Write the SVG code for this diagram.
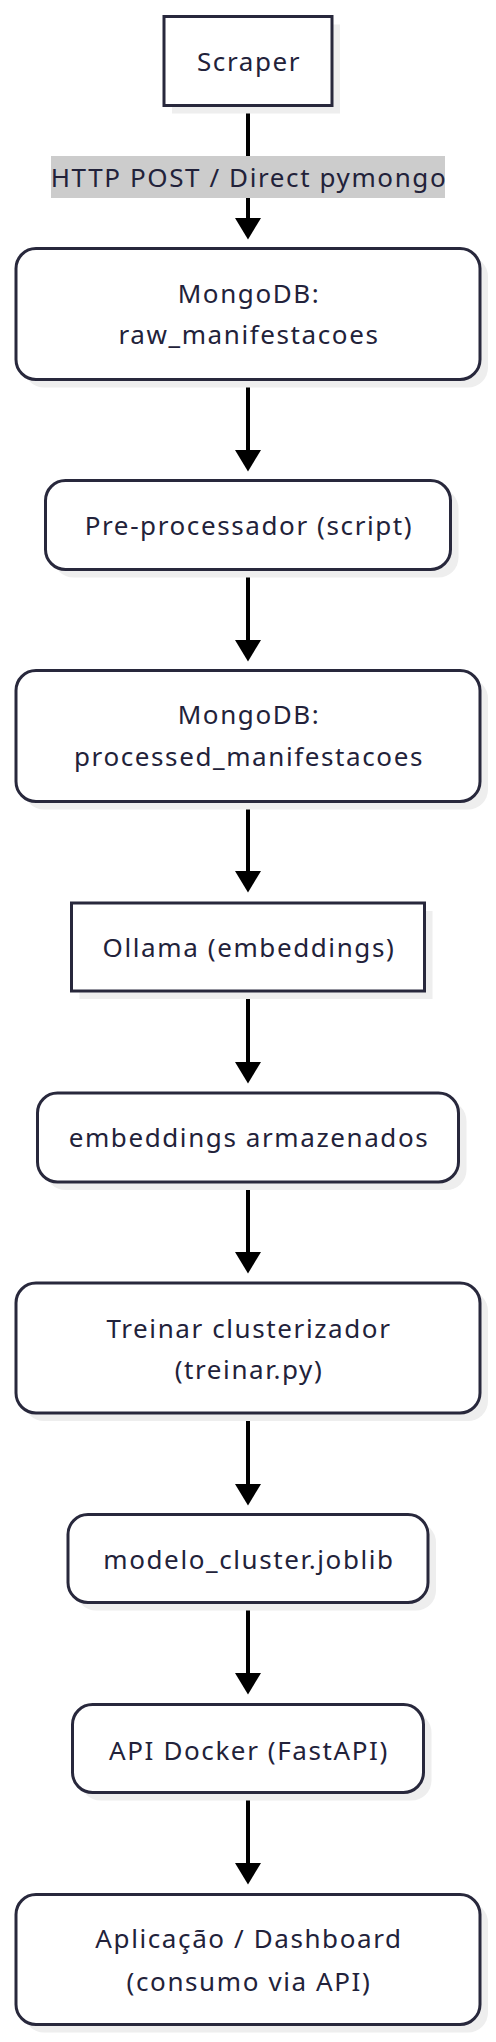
<svg xmlns="http://www.w3.org/2000/svg" width="496" height="2042" viewBox="0 0 496 2042">
<style>
.sh{fill:#eeeeee;stroke:none}
.nd{fill:#ffffff;stroke:#28283c;stroke-width:3}
.t{font-family:"Noto Sans","Open Sans",sans-serif;font-size:26px;letter-spacing:1.6px;fill:#22223a;text-anchor:middle}
.e{stroke:#000000;stroke-width:4;fill:none}
.ah{fill:#000000}
.lb{fill:#cccccc}
</style>
<rect width="496" height="2042" fill="#ffffff"/>
<g id="connectors">
<line class="e" x1="248" y1="107" x2="248" y2="220"/><path class="ah" d="M235,218 L261,218 L248,239.5 Z"/>
<line class="e" x1="248" y1="381" x2="248" y2="452"/><path class="ah" d="M235,450 L261,450 L248,471.5 Z"/>
<line class="e" x1="248" y1="571" x2="248" y2="642"/><path class="ah" d="M235,640 L261,640 L248,661.5 Z"/>
<line class="e" x1="248" y1="803" x2="248" y2="873"/><path class="ah" d="M235,871 L261,871 L248,892.5 Z"/>
<line class="e" x1="248" y1="992" x2="248" y2="1064"/><path class="ah" d="M235,1062 L261,1062 L248,1083.5 Z"/>
<line class="e" x1="248" y1="1183" x2="248" y2="1254"/><path class="ah" d="M235,1252 L261,1252 L248,1273.5 Z"/>
<line class="e" x1="248" y1="1414" x2="248" y2="1486"/><path class="ah" d="M235,1484 L261,1484 L248,1505.5 Z"/>
<line class="e" x1="248" y1="1604" x2="248" y2="1675"/><path class="ah" d="M235,1673 L261,1673 L248,1694.5 Z"/>
<line class="e" x1="248" y1="1794" x2="248" y2="1865"/><path class="ah" d="M235,1863 L261,1863 L248,1884.5 Z"/>
<rect class="lb" x="51" y="156" width="394" height="42"/>
<text class="t" x="249" y="186.5">HTTP POST / Direct pymongo</text>
</g>
<g id="scraper"><rect class="sh" x="172" y="24.5" width="168" height="89"/><rect class="nd" x="164" y="16.5" width="168" height="89"/><text class="t" x="249" y="71">Scraper</text></g>
<g id="raw"><rect class="sh" x="24" y="256.5" width="464" height="131" rx="20"/><rect class="nd" x="16" y="248.5" width="464" height="131" rx="20"/><text class="t" x="249" y="303">MongoDB:</text><text class="t" x="249" y="344">raw_manifestacoes</text></g>
<g id="pre"><rect class="sh" x="53.5" y="488.5" width="405" height="89" rx="20"/><rect class="nd" x="45.5" y="480.5" width="405" height="89" rx="20"/><text class="t" x="249" y="535">Pre-processador (script)</text></g>
<g id="processed"><rect class="sh" x="24" y="678.5" width="464" height="131" rx="20"/><rect class="nd" x="16" y="670.5" width="464" height="131" rx="20"/><text class="t" x="249" y="724">MongoDB:</text><text class="t" x="249" y="765.5">processed_manifestacoes</text></g>
<g id="ollama"><rect class="sh" x="79.5" y="911" width="353" height="88"/><rect class="nd" x="71.5" y="903" width="353" height="88"/><text class="t" x="249" y="956.5">Ollama (embeddings)</text></g>
<g id="embeddings"><rect class="sh" x="45.5" y="1101" width="421" height="89" rx="20"/><rect class="nd" x="37.5" y="1093" width="421" height="89" rx="20"/><text class="t" x="249" y="1146.5">embeddings armazenados</text></g>
<g id="treinar"><rect class="sh" x="24" y="1291" width="464" height="130" rx="20"/><rect class="nd" x="16" y="1283" width="464" height="130" rx="20"/><text class="t" x="249" y="1337.5">Treinar clusterizador</text><text class="t" x="249" y="1379">(treinar.py)</text></g>
<g id="modelo"><rect class="sh" x="76" y="1522.5" width="360" height="88" rx="20"/><rect class="nd" x="68" y="1514.5" width="360" height="88" rx="20"/><text class="t" x="249" y="1569">modelo_cluster.joblib</text></g>
<g id="api"><rect class="sh" x="80.5" y="1712.5" width="351" height="88" rx="20"/><rect class="nd" x="72.5" y="1704.5" width="351" height="88" rx="20"/><text class="t" x="249" y="1759.5">API Docker (FastAPI)</text></g>
<g id="app"><rect class="sh" x="24" y="1902.5" width="464" height="130" rx="20"/><rect class="nd" x="16" y="1894.5" width="464" height="130" rx="20"/><text class="t" x="249" y="1947.5">Aplicação / Dashboard</text><text class="t" x="249" y="1990.5">(consumo via API)</text></g>
</svg>
